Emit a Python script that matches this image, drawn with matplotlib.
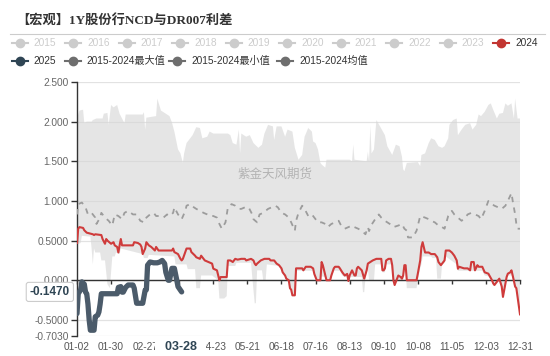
import matplotlib
matplotlib.use('Agg')
import matplotlib.pyplot as plt
from matplotlib.lines import Line2D
from matplotlib.transforms import blended_transform_factory
import numpy as np

plt.rcParams['font.family'] = ['Liberation Sans', 'Noto Sans CJK SC', 'DejaVu Sans']

# ---------------- text ----------------
title = '【宏观】1Y股份行NCD与DR007利差'
watermark = '紫金天风期货'
legend_row1 = ['2015', '2016', '2017', '2018', '2019', '2020', '2021', '2022', '2023', '2024']
legend_row2 = ['2025', '2015-2024最大值', '2015-2024最小值', '2015-2024均值']

# x axis: day offset from 01-02 (category axis MM-DD)
x_tick_days = [0, 28, 56, 84, 112, 140, 168, 196, 224, 252, 280, 308, 336, 364]
x_tick_labels = ['01-02', '01-30', '02-27', '03-26', '04-23', '05-21', '06-18',
                 '07-16', '08-13', '09-10', '10-08', '11-05', '12-03', '12-31']
y_ticks = [2.5, 2.0, 1.5, 1.0, 0.5, 0.0, -0.5, -0.703]
y_tick_labels = ['2.500', '2.000', '1.500', '1.000', '0.5000', '0.000', '-0.5000', '-0.7030']

pointer_day = 86
pointer_label = '03-28'
pointer_value = -0.1470

# ---------------- data ----------------
max_days = [0, 2, 5, 6, 8, 12, 13, 16, 21, 22, 25, 26, 28, 30, 33, 35, 37, 39, 40, 54, 55, 56, 57,
            65, 66, 69, 73, 76, 78, 80, 83, 85, 87, 88, 90, 95, 98, 101, 103, 107, 109, 112, 124,
            126, 128, 131, 133, 134, 135, 139, 142, 145, 149, 152, 154, 157, 161, 162, 164, 168,
            171, 173, 177, 179, 182, 185, 187, 190, 193, 194, 196, 198, 200, 201, 204, 205, 224,
            226, 227, 228, 238, 239, 240, 241, 242, 244, 246, 249, 253, 255, 259, 262, 265, 267,
            268, 269, 271, 280, 282, 283, 286, 289, 291, 294, 297, 300, 302, 305, 306, 309, 312,
            313, 316, 319, 323, 325, 328, 330, 332, 335, 338, 340, 342, 345, 347, 350, 352, 354,
            357, 359, 360, 362, 364]
max_vals = [2.04, 2.14, 2.15, 1.98, 2.0, 2.0, 2.02, 2.04, 2.04, 2.1, 2.11, 1.96, 2.21, 2.18, 2.21,
            2.1, 2.04, 1.98, 2.09, 2.09, 2.12, 1.9, 2.05, 2.07, 2.29, 2.14, 2.1, 2.07, 1.99, 1.875,
            1.65, 1.6, 1.48, 1.6, 1.73, 1.83, 1.93, 1.92, 1.79, 1.81, 1.875, 1.85, 1.85, 1.83, 1.73,
            1.71, 1.9, 1.6, 1.85, 1.81, 1.83, 1.73, 1.67, 1.71, 1.85, 1.96, 1.94, 1.77, 1.94, 1.94,
            1.81, 1.9, 1.875, 1.67, 1.52, 1.58, 1.81, 1.92, 1.875, 1.75, 1.73, 1.65, 1.48, 1.46,
            1.42, 1.52, 1.52, 1.5, 1.71, 1.52, 1.5, 1.62, 1.5, 1.95, 1.6, 1.65, 2.02, 1.94, 1.83,
            1.69, 1.58, 1.71, 1.69, 1.56, 1.4, 1.375, 1.48, 1.49, 1.44, 1.58, 1.6, 1.73, 1.79, 1.77,
            1.69, 1.67, 1.69, 1.79, 1.96, 2.02, 2.04, 1.83, 1.9, 1.96, 1.98, 1.9, 1.96, 2.09, 2.07,
            2.125, 2.21, 2.23, 2.15, 2.04, 2.1, 2.11, 2.23, 2.2, 2.23, 2.04, 2.29, 2.04, 2.04]

min_days = [0, 3, 4, 11, 12, 13, 14, 15, 19, 20, 23, 24, 25, 27, 28, 29, 31, 32, 35, 36, 54, 55,
            58, 59, 80, 81, 90, 91, 97, 98, 101, 102, 111, 116, 117, 121, 123, 124, 130, 131, 143,
            144, 146, 147, 148, 152, 153, 155, 156, 166, 168, 169, 171, 172, 174, 175, 176, 177,
            179, 180, 194, 195, 197, 200, 201, 204, 205, 208, 209, 211, 216, 218, 220, 222, 223,
            224, 234, 235, 236, 237, 238, 239, 240, 244, 245, 250, 251, 253, 254, 258, 259, 260,
            261, 263, 268, 269, 270, 271, 279, 280, 282, 283, 284, 291, 292, 295, 296, 299, 300,
            302, 303, 312, 313, 333, 335, 338, 341, 342, 343, 345, 347, 349, 350, 351, 353, 354,
            357, 358, 360, 361, 362, 364]
min_vals = [0.45, 0.47, 0.56, 0.55, 0.40, 0.20, 0.40, 0.35, 0.35, 0.25, 0.25, 0.10, -0.05, -0.10,
            0.10, 0.30, 0.30, 0.35, 0.33, 0.40, 0.33, 0.28, 0.28, 0.32, 0.30, 0.20, 0.20, 0.14, 0.14,
            -0.10, -0.10, 0.06, 0.06, 0.0, -0.23, -0.23, -0.20, 0.18, 0.18, 0.22, 0.22, 0.04, -0.29,
            -0.29, 0.125, 0.125, 0.0, 0.0, 0.20, 0.18, 0.12, 0.08, 0.04, 0.0, -0.02, -0.10, -0.12,
            -0.19, -0.19, 0.12, 0.12, 0.06, 0.0, 0.0, 0.05, 0.04, 0.0, 0.0, 0.04, 0.12, 0.12, 0.06,
            0.04, 0.04, -0.01, 0.04, 0.04, -0.15, -0.15, 0.02, 0.10, 0.15, 0.0, 0.0, 0.20, 0.20,
            0.10, 0.10, 0.20, 0.20, 0.10, 0.0, -0.06, 0.0, 0.0, 0.10, 0.10, -0.10, -0.10, 0.0, 0.15,
            0.20, 0.30, 0.30, 0.28, 0.28, 0.02, 0.02, 0.20, 0.22, 0.30, 0.20, 0.12, 0.12, 0.06, 0.05,
            0.0, -0.04, -0.06, -0.02, 0.02, -0.08, -0.21, -0.125, 0.04, 0.06, 0.06, 0.04, -0.08,
            -0.10, -0.21, -0.43]

avg_days = [0, 1, 4, 7, 9, 12, 15, 16, 19, 20, 23, 26, 29, 31, 34, 37, 39, 42, 46, 49, 52, 55, 57,
            60, 63, 65, 68, 71, 74, 76, 79, 80, 83, 86, 89, 90, 93, 96, 98, 101, 104, 107, 109,
            112, 115, 117, 119, 122, 124, 127, 130, 133, 135, 138, 141, 144, 145, 148, 150, 153,
            157, 160, 163, 165, 168, 171, 174, 176, 179, 180, 182, 185, 187, 190, 193, 196, 198,
            201, 204, 206, 209, 212, 215, 217, 220, 223, 226, 228, 231, 234, 237, 239, 240, 242,
            245, 248, 250, 253, 257, 260, 264, 267, 269, 271, 272, 276, 279, 282, 286, 289, 291,
            294, 297, 300, 302, 305, 308, 310, 313, 316, 319, 321, 324, 327, 330, 332, 335, 338,
            341, 343, 346, 349, 352, 354, 357, 358, 360, 361, 362, 364]
avg_vals = [0.83, 0.96, 0.98, 0.92, 0.83, 0.85, 0.79, 0.71, 0.79, 0.85, 0.79, 0.75, 0.69, 0.83,
            0.81, 0.77, 0.85, 0.875, 0.83, 0.83, 0.75, 0.73, 0.79, 0.83, 0.85, 0.81, 0.81, 0.79,
            0.83, 0.81, 0.85, 0.92, 0.83, 0.77, 0.875, 0.94, 0.96, 0.92, 0.90, 0.875, 0.85, 0.83,
            0.81, 0.81, 0.79, 0.71, 0.65, 0.73, 0.92, 0.96, 0.94, 0.90, 0.90, 0.92, 0.92, 0.83,
            0.77, 0.73, 0.83, 0.85, 0.90, 0.92, 0.94, 0.92, 0.85, 0.83, 0.79, 0.73, 0.625, 0.75,
            0.85, 0.94, 0.90, 0.81, 0.83, 0.77, 0.73, 0.73, 0.71, 0.67, 0.71, 0.73, 0.75, 0.69,
            0.65, 0.67, 0.69, 0.67, 0.65, 0.625, 0.58, 0.67, 0.62, 0.70, 0.77, 0.83, 0.79, 0.75,
            0.71, 0.67, 0.69, 0.71, 0.65, 0.625, 0.54, 0.54, 0.625, 0.81, 0.79, 0.77, 0.75, 0.73,
            0.69, 0.67, 0.65, 0.81, 0.875, 0.83, 0.79, 0.75, 0.79, 0.83, 0.85, 0.83, 0.81, 0.77,
            0.875, 1.0, 0.96, 0.94, 0.92, 0.90, 0.94, 1.0, 1.1, 1.0, 0.83, 0.71, 0.65, 0.65]

y2024_days = [0, 1, 2, 5, 6, 8, 13, 14, 15, 20, 21, 23, 24, 25, 28, 30, 31, 33, 34, 35, 36, 37, 46,
              47, 50, 52, 53, 54, 56, 57, 59, 61, 64, 65, 67, 78, 79, 80, 83, 85, 86, 87, 89, 90,
              93, 94, 97, 98, 101, 102, 105, 108, 111, 112, 115, 117, 118, 123, 124, 126, 128, 130,
              132, 135, 138, 139, 143, 145, 146, 147, 148, 151, 154, 158, 159, 162, 164, 166, 168,
              169, 171, 172, 174, 175, 176, 177, 179, 180, 185, 186, 188, 192, 194, 195, 197, 200,
              201, 202, 204, 205, 208, 209, 211, 212, 215, 216, 218, 220, 222, 223, 224, 226, 228,
              229, 230, 231, 234, 236, 238, 239, 241, 243, 246, 250, 251, 252, 253, 254, 256, 258,
              259, 260, 261, 263, 264, 266, 267, 268, 269, 270, 271, 279, 280, 282, 283, 284, 286,
              289, 291, 294, 296, 297, 299, 301, 302, 303, 306, 308, 310, 312, 313, 314, 318, 321,
              323, 324, 326, 327, 329, 330, 333, 335, 338, 341, 342, 343, 345, 347, 349, 350, 351,
              353, 354, 356, 357, 358, 360, 361, 362, 364]
y2024_vals = [0.47, 0.65, 0.67, 0.66, 0.63, 0.60, 0.58, 0.57, 0.58, 0.57, 0.52, 0.46, 0.52, 0.50,
              0.46, 0.48, 0.44, 0.42, 0.35, 0.44, 0.52, 0.44, 0.44, 0.48, 0.47, 0.45, 0.42, 0.33,
              0.40, 0.48, 0.44, 0.42, 0.375, 0.42, 0.375, 0.375, 0.40, 0.355, 0.33, 0.27, 0.25, 0.27,
              0.355, 0.40, 0.40, 0.355, 0.31, 0.29, 0.27, 0.31, 0.25, 0.23, 0.21, 0.146, 0.125, 0.0,
              0.04, 0.04, 0.25, 0.25, 0.23, 0.27, 0.26, 0.27, 0.27, 0.25, 0.27, 0.25, 0.21, 0.19,
              0.21, 0.25, 0.27, 0.27, 0.25, 0.25, 0.21, 0.19, 0.15, 0.10, 0.06, 0.02, 0.0, -0.10,
              -0.12, -0.19, -0.19, 0.15, 0.15, 0.125, 0.17, 0.17, 0.15, 0.08, 0.0, 0.0, 0.23, 0.19,
              0.06, 0.0, 0.0, 0.06, 0.15, 0.17, 0.17, 0.15, 0.10, 0.06, 0.08, -0.01, 0.06, 0.125,
              0.06, 0.06, 0.15, 0.17, 0.125, 0.02, 0.125, 0.21, 0.23, 0.25, 0.27, 0.27, 0.125, 0.125,
              0.15, 0.25, 0.27, 0.27, 0.19, 0.0, -0.06, 0.02, 0.06, 0.04, 0.02, 0.06, 0.19, 0.19,
              0.0, 0.0, 0.08, 0.25, 0.42, 0.48, 0.35, 0.35, 0.33, 0.33, 0.29, 0.23, 0.19, 0.23, 0.25,
              0.375, 0.375, 0.35, 0.31, 0.25, 0.145, 0.17, 0.15, 0.15, 0.125, 0.23, 0.23, 0.125,
              0.19, 0.17, 0.17, 0.10, 0.083, 0.0, -0.04, -0.06, -0.02, 0.02, -0.08, -0.21, -0.125,
              0.04, 0.083, 0.10, 0.125, 0.06, -0.08, -0.10, -0.21, -0.43]

y2025_days = [0, 1, 3, 4, 6, 7, 8, 9, 10, 11, 14, 15, 17, 18, 19, 20, 33, 34, 36, 37, 38, 40, 42,
              46, 47, 49, 54, 56, 57, 58, 60, 63, 66, 68, 70, 72, 73, 75, 76, 78, 80, 82, 83, 85, 86]
y2025_vals = [-0.42, -0.17, -0.12, -0.02, -0.05, -0.15, -0.17, -0.30, -0.50, -0.63, -0.63, -0.46,
              -0.44, -0.40, -0.30, -0.17, -0.17, -0.09, -0.08, -0.15, -0.15, -0.09, -0.06, -0.06,
              -0.10, -0.29, -0.29, -0.125, -0.12, 0.19, 0.23, 0.22, 0.22, 0.23, 0.25, 0.21, 0.10,
              0.0, 0.0, 0.15, 0.15, 0.0, -0.08, -0.125, -0.147]

# ---------------- figure ----------------
W, H = 550, 356
fig = plt.figure(figsize=(W / 100, H / 100), dpi=100)
fig.patch.set_facecolor('white')
ax = fig.add_axes([77 / W, 20 / H, 443 / W, 254 / H])
ax.set_xlim(0, 364)
ax.set_ylim(-0.703, 2.5)

# band between min and max (polygon along max, back along min)
ax.fill(list(max_days) + list(min_days[::-1]), list(max_vals) + list(min_vals[::-1]),
        color='#d6d6d6', alpha=0.62, lw=0, zorder=1)

ax.plot(avg_days, avg_vals, color='#9c9c9c', lw=1.3, ls=(0, (3, 3)), zorder=3)
ax.plot(y2024_days, y2024_vals, color='#cf3b3b', lw=1.5, zorder=4)
ax.plot(y2025_days, y2025_vals, color='#4b5b6a', lw=3.8, zorder=5,
        solid_joinstyle='round', solid_capstyle='round')

# axes styling
for s in ['top', 'right']:
    ax.spines[s].set_visible(False)
ax.spines['left'].set_color('#333333')
ax.spines['left'].set_linewidth(1.0)
ax.spines['bottom'].set_position(('data', 0))
ax.spines['bottom'].set_color('#333333')
ax.spines['bottom'].set_linewidth(1.0)
ax.spines['bottom'].set_zorder(3.5)

ax.set_yticks(y_ticks, y_tick_labels)
ax.tick_params(axis='y', length=4, width=1, color='#333333', labelcolor='#666666',
               labelsize=7.3, pad=2)
ax.set_xticks(x_tick_days)
ax.tick_params(axis='x', length=3, width=1, color='#333333', labelbottom=False, direction='out')
ax.set_axisbelow(True)
ax.yaxis.grid(True, color='#e2e2e2', lw=0.9)

sec = ax.secondary_xaxis(0.0)
sec.set_xticks(x_tick_days, x_tick_labels)
sec.tick_params(length=0, labelsize=7.3, labelcolor='#555555', pad=4)
sec.spines['bottom'].set_visible(False)

# watermark
ax.text(0.447, 0.638, watermark, transform=ax.transAxes, ha='center', va='center',
        fontsize=9, color='#b3b3b3', family=['Noto Sans CJK SC'], zorder=2)

# axis pointer labels
bt = blended_transform_factory(ax.transData, ax.transAxes)
ax.text(pointer_day - 1, -0.045, '  ' + pointer_label + '  ', transform=bt, ha='center',
        va='center', fontsize=9, fontweight='bold', color='#2f4554', clip_on=False, zorder=10,
        bbox=dict(boxstyle='square,pad=0.2', fc='white', ec='none'))
bt2 = blended_transform_factory(ax.transAxes, ax.transData)
ax.text(-0.016, pointer_value, f'{pointer_value:.4f}', transform=bt2, ha='right', va='center',
        fontsize=8.5, fontweight='bold', color='#2f4554', clip_on=False, zorder=10,
        bbox=dict(boxstyle='round,pad=0.3,rounding_size=0.2', fc='white', ec='#cccccc', lw=0.8))

# title & separator
fig.text(16 / W, 1 - 20 / H, title, fontsize=9.5, fontweight='bold', color='#333333',
         va='center', ha='left', family=['Liberation Serif', 'Noto Sans CJK SC'])
fig.add_artist(Line2D([10 / W, 545 / W], [1 - 33.5 / H, 1 - 33.5 / H], color='#cccccc',
                      lw=0.8, transform=fig.transFigure))

# legend
def legend_item(xc, yc, label, mcolor, tcolor):
    fx = [(xc - 8) / W, xc / W, (xc + 8) / W]
    fy = [1 - yc / H] * 3
    fig.add_artist(Line2D(fx, fy, color=mcolor, lw=1.5, marker='o', markevery=[1],
                          markersize=6, transform=fig.transFigure))
    fig.text((xc + 14) / W, 1 - yc / H, label, fontsize=7.3, color=tcolor,
             va='center', ha='left')

row1_x = [19.5 + 53.5 * i for i in range(len(legend_row1))]
for xc, lab in zip(row1_x, legend_row1):
    if lab == '2024':
        legend_item(xc, 42.5, lab, '#c23531', '#333333')
    else:
        legend_item(xc, 42.5, lab, '#cccccc', '#cccccc')

row2_x = [19.5, 72.5, 177.0, 285.0]
row2_colors = ['#2f4554', '#6e6e6e', '#6e6e6e', '#6e6e6e']
for xc, lab, c in zip(row2_x, legend_row2, row2_colors):
    legend_item(xc, 60.5, lab, c, '#333333')

fig.savefig('out.png', dpi=100)
